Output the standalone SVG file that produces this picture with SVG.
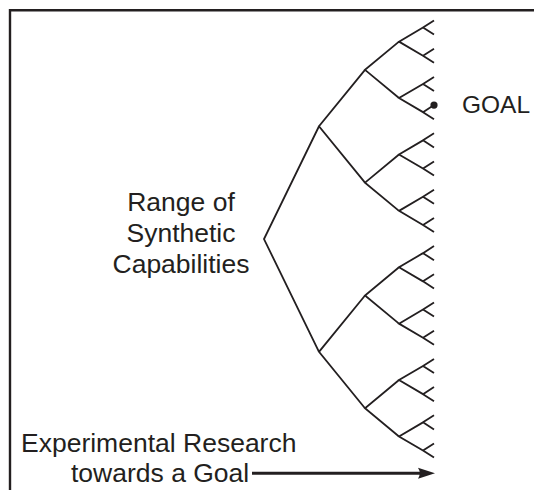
<svg xmlns="http://www.w3.org/2000/svg" width="534" height="490" viewBox="0 0 534 490">
<style>
.txt{font-family:"Liberation Sans",Arial,Helvetica,sans-serif;font-size:26.5px;fill:#231f20}
.tree{fill:none;stroke:#231f20;stroke-width:1.8;stroke-linejoin:miter;stroke-linecap:butt}
.frame{fill:none;stroke:#231f20;stroke-width:2.4}
.arrow{fill:none;stroke:#231f20;stroke-width:3}
</style>
<defs>
<marker id="ah" markerWidth="18" markerHeight="12" refX="2" refY="6" orient="auto" markerUnits="userSpaceOnUse">
<path d="M0,0.5 L17,6 L0,11.5 Q3.5,6 0,0.5 Z" fill="#231f20"/>
</marker>
</defs>
<rect width="534" height="490" fill="#fff"/>
<path class="frame" d="M10,490 V10.3 H534"/>
<g id="tree">
<path class="tree" d="
M434,20.5 L423,27.55 L434,34.6
M434,48.7 L423,55.75 L434,62.8
M434,76.9 L423,83.95 L434,91
M434,105.1 L423,112.15 L434,119.2
M434,133.3 L423,140.35 L434,147.4
M434,161.5 L423,168.55 L434,175.6
M434,189.7 L423,196.75 L434,203.8
M434,217.9 L423,224.95 L434,232
M434,246.1 L423,253.15 L434,260.2
M434,274.3 L423,281.35 L434,288.4
M434,302.5 L423,309.55 L434,316.6
M434,330.7 L423,337.75 L434,344.8
M434,358.9 L423,365.95 L434,373
M434,387.1 L423,394.15 L434,401.2
M434,415.3 L423,422.35 L434,429.4
M434,443.5 L423,450.55 L434,457.6
M423,27.55 L399,41.65 L423,55.75
M423,83.95 L399,98.05 L423,112.15
M423,140.35 L399,154.45 L423,168.55
M423,196.75 L399,210.85 L423,224.95
M423,253.15 L399,267.25 L423,281.35
M423,309.55 L399,323.65 L423,337.75
M423,365.95 L399,380.05 L423,394.15
M423,422.35 L399,436.45 L423,450.55
M399,41.65 L365,69.85 L399,98.05
M399,154.45 L365,182.65 L399,210.85
M399,267.25 L365,295.45 L399,323.65
M399,380.05 L365,408.25 L399,436.45
M365,69.85 L319,126.25 L365,182.65
M365,295.45 L319,351.85 L365,408.25
M319,126.25 L264,239.05 L319,351.85"/>
</g>
<g id="goal">
<circle cx="434" cy="105.1" r="3.6" fill="#231f20"/>
<text class="txt" x="462" y="113" style="font-size:24.5px">GOAL</text>
</g>
<g id="range">
<text class="txt" text-anchor="middle" x="181" y="211">Range of</text>
<text class="txt" text-anchor="middle" x="181" y="242">Synthetic</text>
<text class="txt" text-anchor="middle" x="181" y="273">Capabilities</text>
</g>
<g id="research">
<text class="txt" x="21" y="452">Experimental Research</text>
<text class="txt" x="71" y="482">towards a Goal</text>
</g>
<g id="connectors">
<path class="arrow" d="M252,473.3 H420" marker-end="url(#ah)"/>
</g>
</svg>
